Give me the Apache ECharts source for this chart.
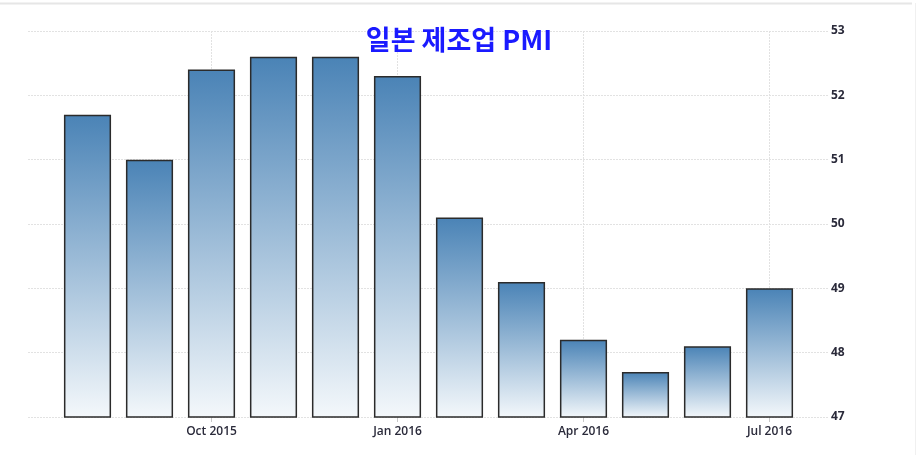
<!DOCTYPE html>
<html>
<head>
<meta charset="utf-8">
<script src="https://cdn.jsdelivr.net/npm/echarts@6/dist/echarts.min.js"></script>
<style>html,body{margin:0;padding:0;background:#fff;}#c{width:918px;height:455px;}</style>
</head>
<body>
<div id="c"></div>
<script>
var categories = ['Aug 2015','Sep 2015','Oct 2015','Nov 2015','Dec 2015','Jan 2016','Feb 2016','Mar 2016','Apr 2016','May 2016','Jun 2016','Jul 2016'];
var pmiValues = [51.7, 51.0, 52.4, 52.6, 52.6, 52.3, 50.1, 49.1, 48.2, 47.7, 48.1, 49.0];
var labeledCategories = ['Oct 2015','Jan 2016','Apr 2016','Jul 2016'];
var yTicks = [47, 48, 49, 50, 51, 52, 53];

var chart = echarts.init(document.getElementById('c'), null, {renderer: 'canvas'});
var yMin = yTicks[0], yMax = yTicks[yTicks.length - 1];
var dotted = {color: '#e2e2e2', type: [2, 1], width: 1};

chart.setOption({
  animation: false,
  backgroundColor: '#ffffff',
  title: {
    text: '일본 제조업 PMI',
    left: 'center',
    top: 21,
    textStyle: {fontFamily: 'Noto Sans CJK KR', fontSize: 27, fontWeight: 'bold', color: '#1a1aff'}
  },
  graphic: [
    {type: 'line', shape: {x1: 0, y1: 3.5, x2: 912, y2: 3.5}, style: {stroke: '#e6e6e6', lineWidth: 2}},
    {type: 'line', shape: {x1: 915.5, y1: 3, x2: 915.5, y2: 455}, style: {stroke: '#f0f0f0', lineWidth: 1}}
  ],
  grid: [
    {left: 28, right: 90, top: 31, bottom: 38},
    {left: 56.5, right: 117.5, top: 31, bottom: 38}
  ],
  xAxis: [
    {type: 'category', gridIndex: 0, data: categories, show: false},
    {type: 'category', gridIndex: 1, data: categories,
     axisLine: {show: false},
     axisTick: {show: true, alignWithLabel: true, length: 5, lineStyle: {color: '#c8c8c8'},
       interval: function (i, v) { return labeledCategories.indexOf(v) >= 0; }},
     axisLabel: {interval: function (i, v) { return labeledCategories.indexOf(v) >= 0; },
       fontFamily: 'Open Sans', fontSize: 12, fontWeight: 600, color: '#2a2a3a', margin: 9},
     splitLine: {show: false}
    }
  ],
  yAxis: [
    {type: 'value', gridIndex: 0, position: 'right', min: yMin, max: yMax, interval: 1,
     axisLine: {show: false}, axisTick: {show: false},
     axisLabel: {fontFamily: 'Open Sans', fontSize: 12, fontWeight: 'bold', color: '#2a2a3a', margin: 3},
     splitLine: {show: true, lineStyle: dotted}},
    {type: 'value', gridIndex: 1, min: yMin, max: yMax, interval: 1, show: false}
  ],
  series: [
    {type: 'line', xAxisIndex: 1, yAxisIndex: 1, data: [], z: 0, silent: true,
     markLine: {symbol: 'none', silent: true, z: 1, label: {show: false},
       lineStyle: {color: '#e2e2e2', type: [2, 1], width: 1},
       data: labeledCategories.map(function (c) { return {xAxis: c}; })}},
    {type: 'bar', xAxisIndex: 1, yAxisIndex: 1, data: pmiValues, barWidth: '76%', z: 3,
     itemStyle: {
       color: new echarts.graphic.LinearGradient(0, 0, 0, 1, [
         {offset: 0, color: '#4a83b6'},
         {offset: 1, color: '#f4f8fb'}
       ]),
       borderColor: '#2b2b2b', borderWidth: 1.5
     }}
  ]
});
</script>
</body>
</html>
